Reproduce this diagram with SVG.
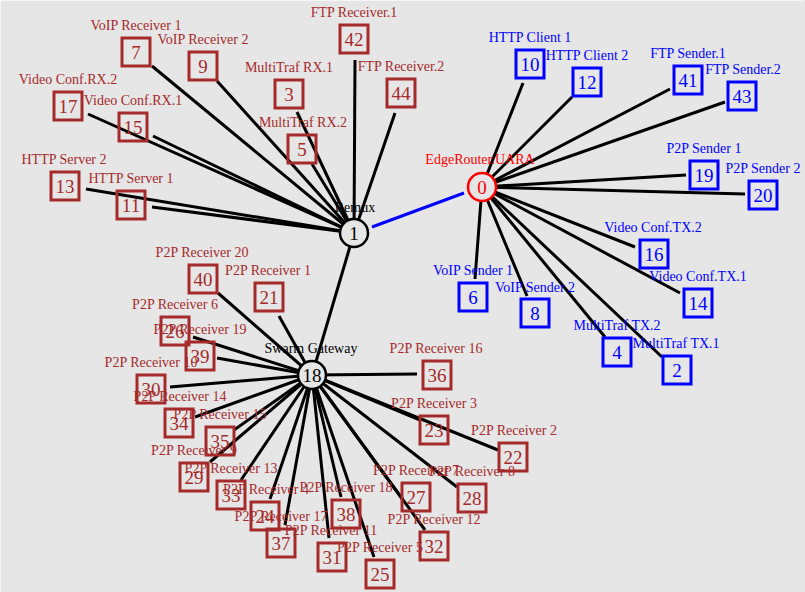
<svg xmlns="http://www.w3.org/2000/svg" width="805" height="592" viewBox="0 0 805 592">
<style>
text{font-family:"Liberation Serif","DejaVu Serif","Times New Roman",serif}
.lbl{font-size:14px;text-anchor:middle}
.num{font-size:19px;text-anchor:middle}
.rx rect{fill:none;stroke:#a52a2a;stroke-width:3}
.rx text{fill:#a52a2a}
.tx rect{fill:none;stroke:#0000ff;stroke-width:3}
.tx text{fill:#0000ff}
.edges line{stroke:#000;stroke-width:3}
.hub circle{fill:#e6e6e6;stroke-width:2.5}
</style>
<rect x="0" y="0" width="805" height="592" fill="#e6e6e6"/>
<path d="M0.5 591V0.5H804" fill="none" stroke="#f6f6f6" stroke-width="1"/>
<g id="connectors" class="edges">
<line x1="372" y1="227" x2="464" y2="193" style="stroke:#0000ff"/>
<line x1="354" y1="233" x2="152" y2="66"/>
<line x1="354" y1="233" x2="217" y2="81"/>
<line x1="354" y1="233" x2="88" y2="114"/>
<line x1="354" y1="233" x2="153" y2="136"/>
<line x1="354" y1="233" x2="86" y2="189"/>
<line x1="354" y1="233" x2="152" y2="207"/>
<line x1="354" y1="233" x2="297" y2="112"/>
<line x1="354" y1="233" x2="312" y2="164"/>
<line x1="354" y1="233" x2="355" y2="60"/>
<line x1="354" y1="233" x2="395" y2="113"/>
<line x1="354" y1="233" x2="312" y2="375"/>
<line x1="482" y1="187" x2="523" y2="83"/>
<line x1="482" y1="187" x2="572" y2="97"/>
<line x1="482" y1="187" x2="670" y2="89"/>
<line x1="482" y1="187" x2="725" y2="102"/>
<line x1="482" y1="187" x2="686" y2="175"/>
<line x1="482" y1="187" x2="745" y2="194"/>
<line x1="482" y1="187" x2="635" y2="247"/>
<line x1="482" y1="187" x2="680" y2="293"/>
<line x1="482" y1="187" x2="475" y2="279"/>
<line x1="482" y1="187" x2="527" y2="296"/>
<line x1="482" y1="187" x2="605" y2="337"/>
<line x1="482" y1="187" x2="662" y2="357"/>
<line x1="312" y1="375" x2="218" y2="293"/>
<line x1="312" y1="375" x2="279" y2="316"/>
<line x1="312" y1="375" x2="193" y2="337"/>
<line x1="312" y1="375" x2="217" y2="358"/>
<line x1="312" y1="375" x2="170" y2="387"/>
<line x1="312" y1="375" x2="195" y2="417"/>
<line x1="312" y1="375" x2="234" y2="430"/>
<line x1="312" y1="375" x2="210" y2="462"/>
<line x1="312" y1="375" x2="241" y2="480"/>
<line x1="312" y1="375" x2="270" y2="499"/>
<line x1="312" y1="375" x2="285" y2="525"/>
<line x1="312" y1="375" x2="329" y2="538"/>
<line x1="312" y1="375" x2="341" y2="497"/>
<line x1="312" y1="375" x2="374" y2="557"/>
<line x1="312" y1="375" x2="425" y2="530"/>
<line x1="312" y1="375" x2="403" y2="500"/>
<line x1="312" y1="375" x2="457" y2="487"/>
<line x1="312" y1="375" x2="498" y2="450"/>
<line x1="312" y1="375" x2="420" y2="420"/>
<line x1="312" y1="375" x2="417" y2="374"/>
</g>
<g id="n1" class="hub"><circle cx="354" cy="233" r="14" stroke="#000"/><text class="num" x="354" y="240">1</text><text class="lbl" x="355" y="212">Remux</text></g>
<g id="n0" class="hub"><circle cx="482" cy="187" r="14" stroke="#ff0000"/><text class="num" x="482" y="194" fill="#ff0000">0</text><text class="lbl" x="480" y="164" fill="#ff0000">EdgeRouter.UARA</text></g>
<g id="n18" class="hub"><circle cx="312" cy="375" r="14" stroke="#000"/><text class="num" x="312" y="382">18</text><text class="lbl" x="311" y="353">Swarm Gateway</text></g>
<g id="n7" class="rx"><rect x="122" y="38" width="28" height="28"/><text class="num" x="136" y="59">7</text><text class="lbl" x="136" y="30">VoIP Receiver 1</text></g>
<g id="n9" class="rx"><rect x="189" y="52" width="28" height="28"/><text class="num" x="203" y="73">9</text><text class="lbl" x="203" y="44">VoIP Receiver 2</text></g>
<g id="n17" class="rx"><rect x="54" y="92" width="28" height="28"/><text class="num" x="68" y="113">17</text><text class="lbl" x="68" y="84">Video Conf.RX.2</text></g>
<g id="n15" class="rx"><rect x="119" y="113" width="28" height="28"/><text class="num" x="133" y="134">15</text><text class="lbl" x="133" y="105">Video Conf.RX.1</text></g>
<g id="n13" class="rx"><rect x="51" y="172" width="28" height="28"/><text class="num" x="65" y="193">13</text><text class="lbl" x="64" y="164">HTTP Server 2</text></g>
<g id="n11" class="rx"><rect x="117" y="191" width="28" height="28"/><text class="num" x="131" y="212">11</text><text class="lbl" x="131" y="183">HTTP Server 1</text></g>
<g id="n42" class="rx"><rect x="340" y="25" width="28" height="28"/><text class="num" x="354" y="46">42</text><text class="lbl" x="354" y="17">FTP Receiver.1</text></g>
<g id="n3" class="rx"><rect x="275" y="80" width="28" height="28"/><text class="num" x="289" y="101">3</text><text class="lbl" x="289" y="72">MultiTraf RX.1</text></g>
<g id="n44" class="rx"><rect x="387" y="79" width="28" height="28"/><text class="num" x="401" y="100">44</text><text class="lbl" x="401" y="71">FTP Receiver.2</text></g>
<g id="n5" class="rx"><rect x="288" y="135" width="28" height="28"/><text class="num" x="302" y="156">5</text><text class="lbl" x="303" y="127">MultiTraf RX.2</text></g>
<g id="n40" class="rx"><rect x="189" y="265" width="28" height="28"/><text class="num" x="203" y="286">40</text><text class="lbl" x="202" y="257">P2P Receiver 20</text></g>
<g id="n21" class="rx"><rect x="255" y="283" width="28" height="28"/><text class="num" x="269" y="304">21</text><text class="lbl" x="268" y="275">P2P Receiver 1</text></g>
<g id="n26" class="rx"><rect x="161" y="317" width="28" height="28"/><text class="num" x="175" y="338">26</text><text class="lbl" x="175" y="309">P2P Receiver 6</text></g>
<g id="n39" class="rx"><rect x="186" y="342" width="28" height="28"/><text class="num" x="200" y="363">39</text><text class="lbl" x="200" y="334">P2P Receiver 19</text></g>
<g id="n30" class="rx"><rect x="137" y="375" width="28" height="28"/><text class="num" x="151" y="396">30</text><text class="lbl" x="151" y="367">P2P Receiver 10</text></g>
<g id="n34" class="rx"><rect x="165" y="409" width="28" height="28"/><text class="num" x="179" y="430">34</text><text class="lbl" x="180" y="401">P2P Receiver 14</text></g>
<g id="n35" class="rx"><rect x="206" y="427" width="28" height="28"/><text class="num" x="220" y="448">35</text><text class="lbl" x="220" y="419">P2P Receiver 15</text></g>
<g id="n29" class="rx"><rect x="180" y="463" width="28" height="28"/><text class="num" x="194" y="484">29</text><text class="lbl" x="194" y="455">P2P Receiver 9</text></g>
<g id="n33" class="rx"><rect x="217" y="481" width="28" height="28"/><text class="num" x="231" y="502">33</text><text class="lbl" x="231" y="473">P2P Receiver 13</text></g>
<g id="n24" class="rx"><rect x="251" y="502" width="28" height="28"/><text class="num" x="265" y="523">24</text><text class="lbl" x="266" y="494">P2P Receiver 4</text></g>
<g id="n37" class="rx"><rect x="267" y="529" width="28" height="28"/><text class="num" x="281" y="550">37</text><text class="lbl" x="281" y="521">P2P Receiver 17</text></g>
<g id="n31" class="rx"><rect x="318" y="543" width="28" height="28"/><text class="num" x="332" y="564">31</text><text class="lbl" x="331" y="535">P2P Receiver 11</text></g>
<g id="n38" class="rx"><rect x="332" y="500" width="28" height="28"/><text class="num" x="346" y="521">38</text><text class="lbl" x="346" y="492">P2P Receiver 18</text></g>
<g id="n25" class="rx"><rect x="366" y="560" width="28" height="28"/><text class="num" x="380" y="581">25</text><text class="lbl" x="380" y="552">P2P Receiver 5</text></g>
<g id="n32" class="rx"><rect x="420" y="532" width="28" height="28"/><text class="num" x="434" y="553">32</text><text class="lbl" x="434" y="524">P2P Receiver 12</text></g>
<g id="n27" class="rx"><rect x="402" y="483" width="28" height="28"/><text class="num" x="416" y="504">27</text><text class="lbl" x="416" y="475">P2P Receiver 7</text></g>
<g id="n28" class="rx"><rect x="458" y="484" width="28" height="28"/><text class="num" x="472" y="505">28</text><text class="lbl" x="472" y="476">P2P Receiver 8</text></g>
<g id="n22" class="rx"><rect x="499" y="443" width="28" height="28"/><text class="num" x="513" y="464">22</text><text class="lbl" x="514" y="435">P2P Receiver 2</text></g>
<g id="n23" class="rx"><rect x="420" y="416" width="28" height="28"/><text class="num" x="434" y="437">23</text><text class="lbl" x="434" y="408">P2P Receiver 3</text></g>
<g id="n36" class="rx"><rect x="423" y="361" width="28" height="28"/><text class="num" x="437" y="382">36</text><text class="lbl" x="436" y="353">P2P Receiver 16</text></g>
<g id="n10" class="tx"><rect x="516" y="50" width="28" height="28"/><text class="num" x="530" y="71">10</text><text class="lbl" x="530" y="42">HTTP Client 1</text></g>
<g id="n12" class="tx"><rect x="573" y="68" width="28" height="28"/><text class="num" x="587" y="89">12</text><text class="lbl" x="587" y="60">HTTP Client 2</text></g>
<g id="n41" class="tx"><rect x="674" y="66" width="28" height="28"/><text class="num" x="688" y="87">41</text><text class="lbl" x="688" y="58">FTP Sender.1</text></g>
<g id="n43" class="tx"><rect x="728" y="82" width="28" height="28"/><text class="num" x="742" y="103">43</text><text class="lbl" x="743" y="74">FTP Sender.2</text></g>
<g id="n19" class="tx"><rect x="690" y="161" width="28" height="28"/><text class="num" x="704" y="182">19</text><text class="lbl" x="704" y="153">P2P Sender 1</text></g>
<g id="n20" class="tx"><rect x="749" y="181" width="28" height="28"/><text class="num" x="763" y="202">20</text><text class="lbl" x="763" y="173">P2P Sender 2</text></g>
<g id="n16" class="tx"><rect x="640" y="240" width="28" height="28"/><text class="num" x="654" y="261">16</text><text class="lbl" x="653" y="232">Video Conf.TX.2</text></g>
<g id="n14" class="tx"><rect x="684" y="289" width="28" height="28"/><text class="num" x="698" y="310">14</text><text class="lbl" x="698" y="281">Video Conf.TX.1</text></g>
<g id="n6" class="tx"><rect x="459" y="283" width="28" height="28"/><text class="num" x="473" y="304">6</text><text class="lbl" x="473" y="275">VoIP Sender 1</text></g>
<g id="n8" class="tx"><rect x="521" y="299" width="28" height="28"/><text class="num" x="535" y="320">8</text><text class="lbl" x="535" y="292">VoIP Sender 2</text></g>
<g id="n4" class="tx"><rect x="603" y="338" width="28" height="28"/><text class="num" x="617" y="359">4</text><text class="lbl" x="617" y="330">MultiTraf TX.2</text></g>
<g id="n2" class="tx"><rect x="663" y="356" width="28" height="28"/><text class="num" x="677" y="377">2</text><text class="lbl" x="676" y="348">MultiTraf TX.1</text></g>
</svg>
